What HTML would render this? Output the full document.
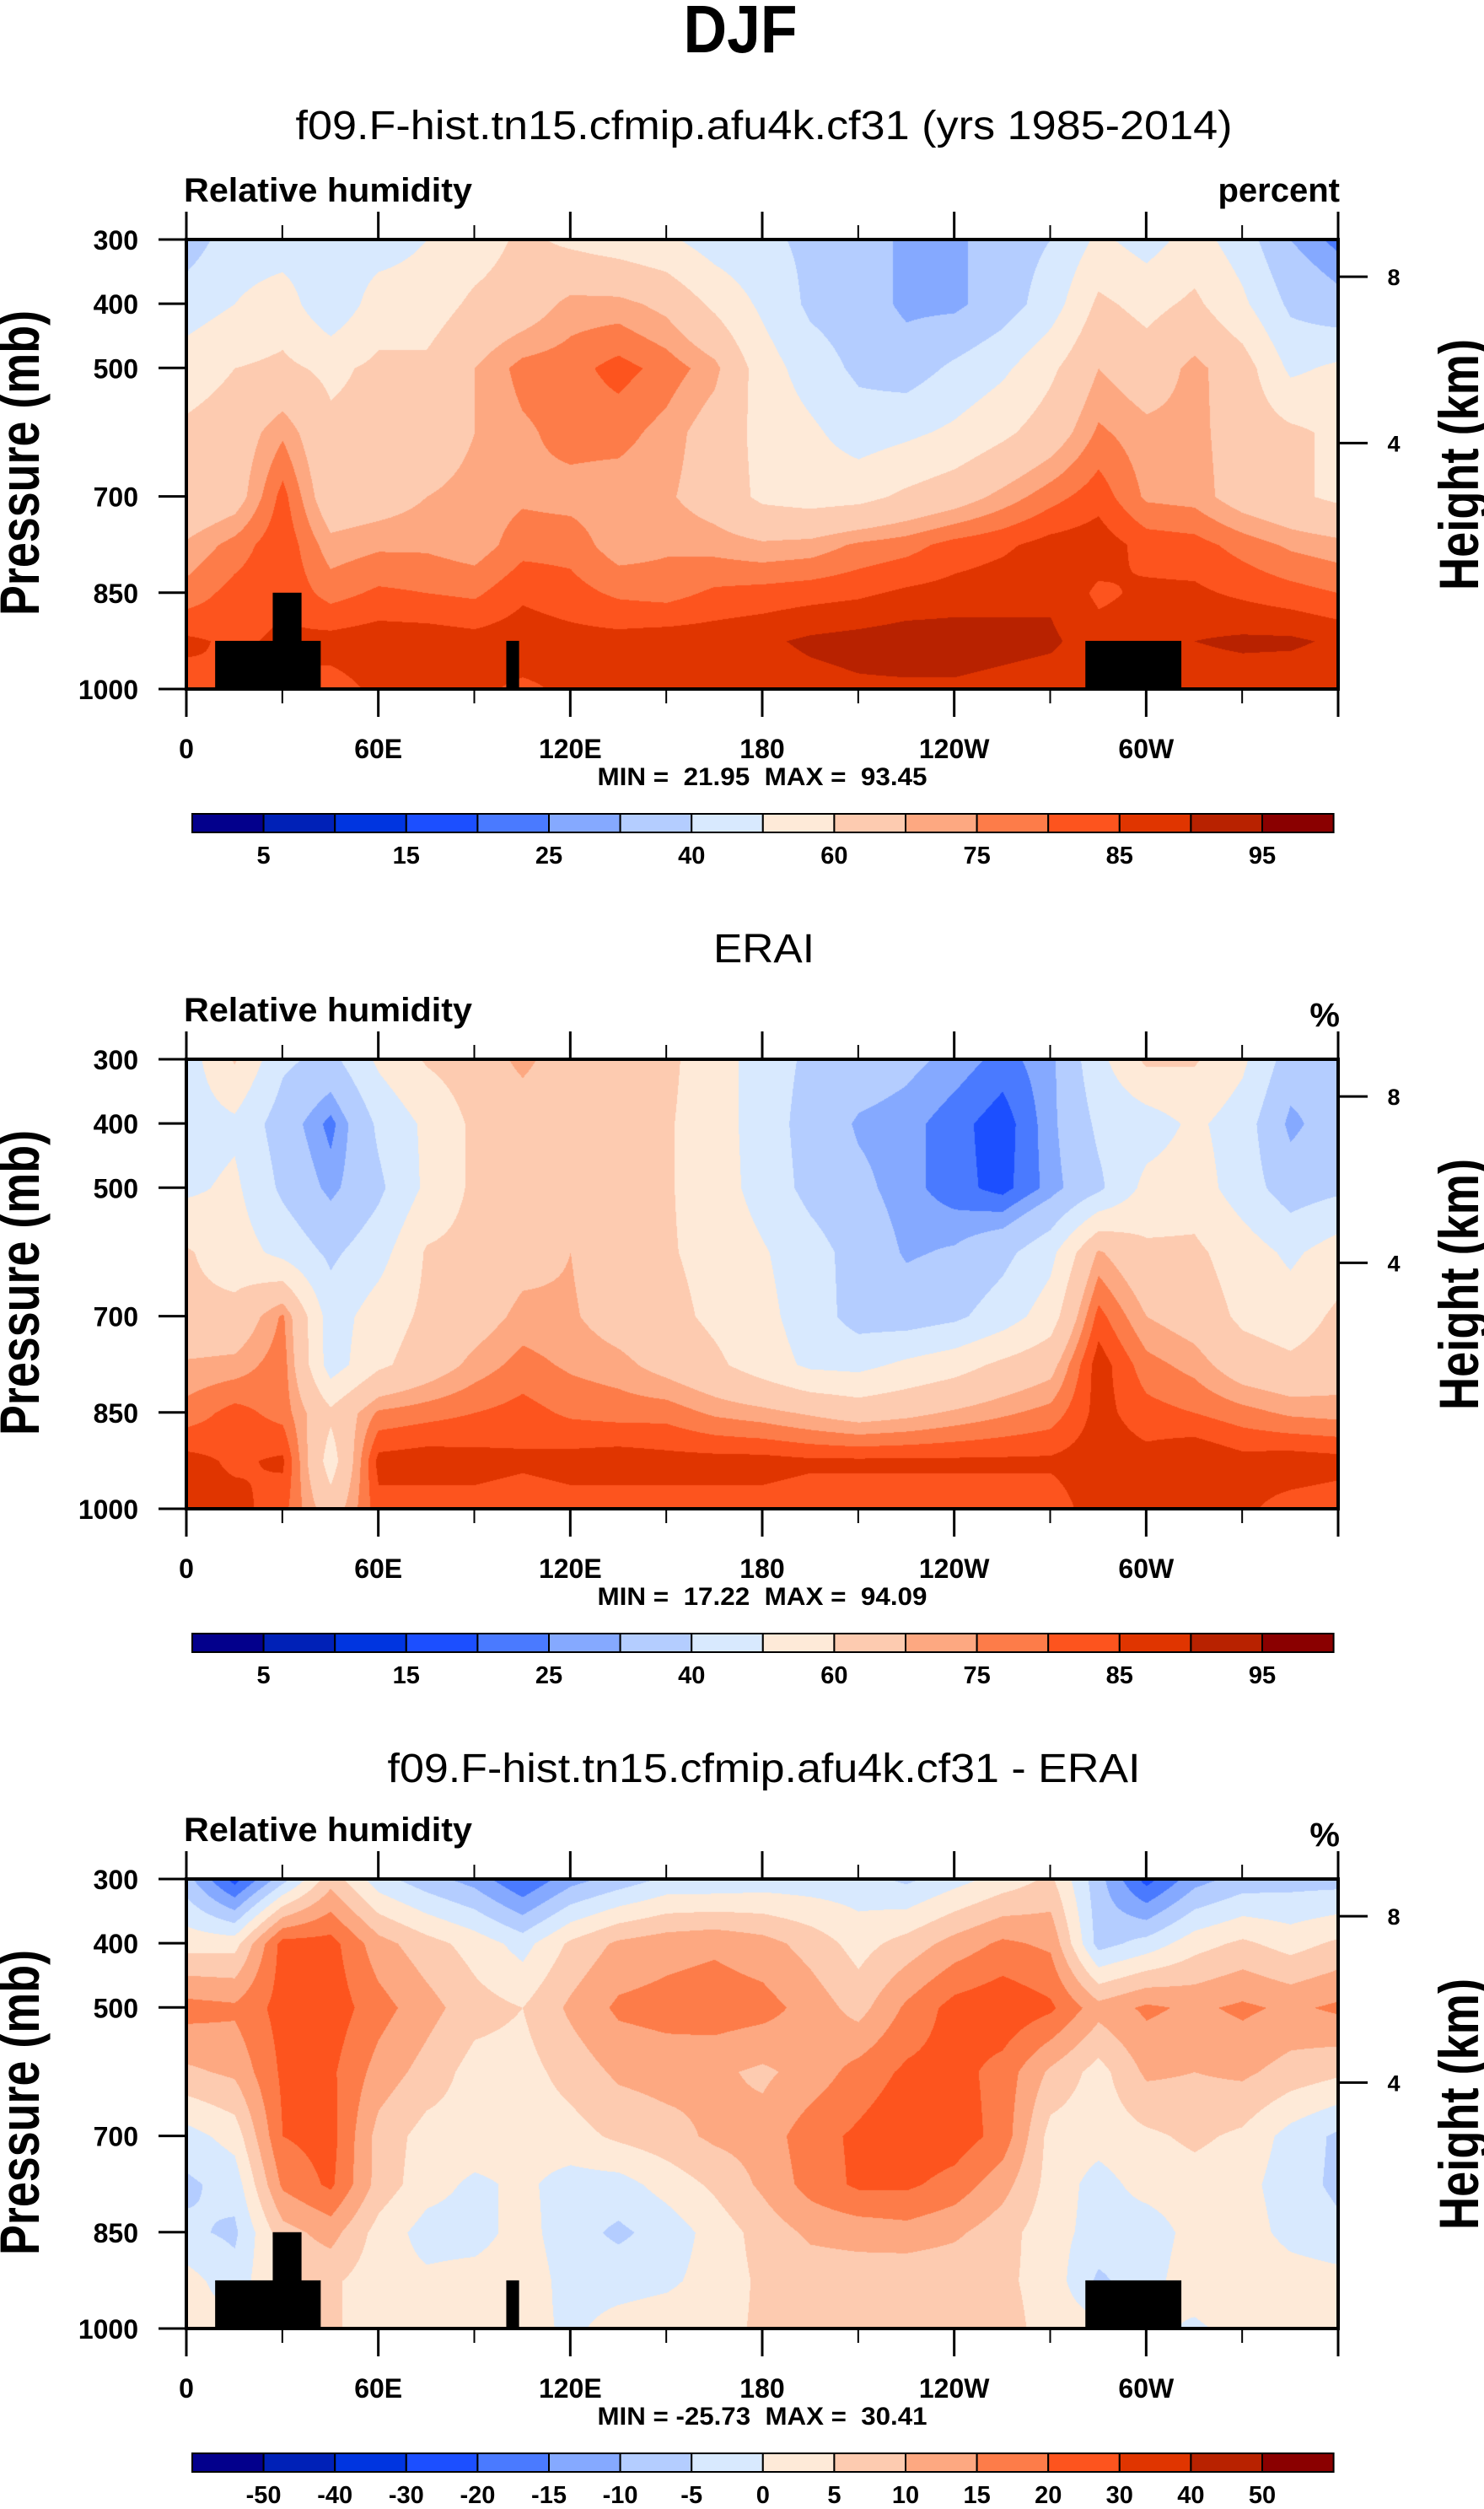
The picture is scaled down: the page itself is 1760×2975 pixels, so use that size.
<!DOCTYPE html>
<html><head><meta charset="utf-8">
<style>
html,body{margin:0;padding:0;background:#fff;}
#wrap{position:relative;width:1760px;height:2975px;overflow:hidden;background:#fff;}
canvas{position:absolute;}
svg{position:absolute;left:0;top:0;}
text{font-family:"Liberation Sans",sans-serif;fill:#000;}
</style></head>
<body>
<div id="wrap">
<canvas id="c0" width="1366" height="533" style="left:221px;top:284px"></canvas>
<canvas id="c1" width="1366" height="533" style="left:221px;top:1256px"></canvas>
<canvas id="c2" width="1366" height="533" style="left:221px;top:2228px"></canvas>
<svg id="svg" width="1760" height="2975" xmlns="http://www.w3.org/2000/svg">
<text x="878" y="62" font-size="80" font-weight="bold" text-anchor="middle" textLength="135" lengthAdjust="spacingAndGlyphs">DJF</text>
</svg>
</div>
<script>
// ---- data ----
const lonGrid = [0,15,30,45,60,75,90,105,120,135,150,165,180,195,210,225,240,255,270,285,300,315,330,345,360];
const presGrid = [300,400,500,600,700,775,850,925,1000];
const levRH = [5,10,15,20,25,30,40,50,60,70,75,80,85,90,95];
const levDiff = [-50,-40,-30,-20,-15,-10,-5,0,5,10,15,20,30,40,50];
const rhLabels = ["5","","15","","25","","40","","60","","75","","85","","95"];
const diffLabels = ["-50","-40","-30","-20","-15","-10","-5","0","5","10","15","20","30","40","50"];
const model = [
[35,45,45,45,45,50,55,62,58,55,52,45,42,38,35,28,28,35,40,52,46,54,45,30,23],
[45,50,55,42,55,55,62,65,72,72,68,58,48,38,35,28,28,35,45,62,57,62,52,38,33],
[55,60,62,58,62,62,70,77,78,82,78,72,55,45,38,35,42,48,58,70,65,72,65,48,52],
[62,65,74,62,63,65,70,74,77,77,73,66,57,52,45,48,52,58,65,76,72,72,66,62,58],
[62,66,82,64,66,70,72,74,73,72,71,66,58,56,57,62,66,72,78,83,74,73,66,62,58],
[71,77,84,72,74,74,72,78,78,72,74,73,71,72,76,78,82,84,87,88,83,82,78,74,72],
[77,82,84,78,81,80,79,84,82,79,78,81,82,83,84,86,87,88,89,84,86,86,84,82,80],
[86,84,86,87,88,88,87,88,87,87,88,88,89,91,92,93,93,92,91,87,87,90,91,91,89],
[83,86,84,83,86,87,86,84,86,87,87,87,87,88,89,89,89,88,87,87,86,87,87,86,86]];
const erai = [
[45,61,42,37,52,61,65,72,65,62,62,55,45,38,35,32,28,23,28,47,62,61,52,35,33],
[45,48,35,23,42,52,62,65,63,62,61,55,45,36,29,27,22,17,28,42,45,52,45,28,35],
[48,52,38,28,38,52,62,65,65,63,61,55,46,37,32,27,22,18,27,38,53,55,45,35,38],
[61,55,47,38,46,61,63,67,70,64,61,57,51,44,36,29,31,37,47,71,62,62,55,48,55],
[62,63,76,45,55,62,66,72,71,66,63,58,53,45,36,35,38,45,55,82,70,66,58,55,62],
[71,72,78,45,58,65,72,77,74,72,67,62,55,48,47,52,56,62,67,88,77,73,65,62,65],
[77,82,78,62,76,78,80,82,79,78,78,74,72,69,66,68,71,74,77,87,82,80,77,74,73],
[87,84,86,55,87,88,87,86,87,88,87,87,87,86,86,86,86,86,86,88,87,90,87,88,87],
[86,87,82,65,83,82,83,82,83,82,83,83,83,82,82,82,82,82,82,88,88,86,86,83,82]];
const diff = [
[-8,-22,-7,8,-3,-8,-12,-20,-12,-8,-4,-4,-3,-3,-3,-6,-2,2,6,-8,-22,-12,-8,-7,-7],
[3,3,22,22,12,7,3,-2,6,11,13,14,12,8,3,7,12,16,14,-7,-3,3,6,3,6],
[17,16,22,23,17,12,7,5,11,16,17,18,17,13,8,16,22,24,21,12,16,14,16,14,16],
[9,11,21,21,13,8,3,3,7,11,12,11,9,12,17,21,22,18,9,3,11,10,11,8,6],
[-2,2,20,22,8,3,3,2,3,6,8,11,12,18,21,24,23,18,3,2,4,6,4,-2,-6],
[-6,-3,16,21,8,2,-1,1,-2,-2,2,6,11,17,21,21,18,12,3,-2,2,3,2,-3,-6],
[-4,-6,8,12,3,-2,-2,2,-3,-6,-3,2,7,11,12,13,11,7,2,-2,-3,2,3,-2,-4],
[2,-3,6,6,2,1,2,3,-2,-2,-1,2,6,7,7,6,6,6,3,-6,-2,3,5,3,2],
[2,2,3,6,2,2,2,2,-1,2,3,3,6,6,6,6,6,7,3,2,2,-1,2,2,2]];
const topoLonStart = [9,27,100,281];
const topoLonEnd = [42,36,104,311];
const topoTopP = [925,850,925,925];
const xTickLons = [0,60,120,180,240,300];
const xTickLabels = ["0","60E","120E","180","120W","60W"];
const xMinorLons = [30,90,150,210,270,330];
const yTickP = [300,400,500,700,850,1000];
const yTickLabels = ["300","400","500","700","850","1000"];
const hTickP = [358,617];
const hTickLabels = ["8","4"];
const palette = ["#03008c","#0021b7","#0035e0","#1c4fff","#4a7aff","#85a9ff","#b4cdff","#d8e9fe","#feead8","#fdcbb0","#fda881","#fd7c49","#fd541e","#e03500","#b82200","#8a0000"];

const panels = [
 {data:model, lev:levRH, labels:rhLabels, title:"f09.F-hist.tn15.cfmip.afu4k.cf31 (yrs 1985-2014)", tlen:1111, unit:"percent", stats:"MIN =  21.95  MAX =  93.45", topo:true},
 {data:erai, lev:levRH, labels:rhLabels, title:"ERAI", tlen:120, unit:"%", stats:"MIN =  17.22  MAX =  94.09", topo:false},
 {data:diff, lev:levDiff, labels:diffLabels, title:"f09.F-hist.tn15.cfmip.afu4k.cf31 - ERAI", tlen:893, unit:"%", stats:"MIN = -25.73  MAX =  30.41", topo:true}
];

const L=221, PW=1366, PH=533, OFF=972;
function xs(lon){return L+lon*PW/360;}
function ys(p,top){return top+(p-300)*PH/700;}
function hex(c){return [parseInt(c.substr(1,2),16),parseInt(c.substr(3,2),16),parseInt(c.substr(5,2),16)];}
const pal = palette.map(hex);

function sample(data,lon,p){
  let c=Math.min(Math.floor(lon/15),23); let fx=(lon-lonGrid[c])/15;
  let k=0; while(k<presGrid.length-2 && p>presGrid[k+1]) k++;
  let fy=(p-presGrid[k])/(presGrid[k+1]-presGrid[k]);
  fy=Math.max(0,Math.min(1,fy));
  const a=data[k][c],b=data[k][c+1],d=data[k+1][c],e=data[k+1][c+1];
  return (a*(1-fx)+b*fx)*(1-fy)+(d*(1-fx)+e*fx)*fy;
}
panels.forEach((pn,i)=>{
  const cv=document.getElementById('c'+i); const ctx=cv.getContext('2d');
  const img=ctx.createImageData(PW,PH);
  for(let j=0;j<PH;j++){const p=300+j*700/PH;
    for(let x=0;x<PW;x++){const lon=x*360/PW;
      const v=sample(pn.data,lon,p); let idx=0; while(idx<pn.lev.length && v>=pn.lev[idx]) idx++;
      const col=pal[idx]; const o=(j*PW+x)*4; img.data[o]=col[0];img.data[o+1]=col[1];img.data[o+2]=col[2];img.data[o+3]=255;}}
  ctx.putImageData(img,0,0);
});

const svg=document.getElementById('svg'); const NS="http://www.w3.org/2000/svg";
function mk(tag,attrs,txt){const e=document.createElementNS(NS,tag);for(const k in attrs)e.setAttribute(k,attrs[k]);if(txt!==undefined)e.textContent=txt;svg.appendChild(e);return e;}

panels.forEach((pn,i)=>{
  const o=i*OFF, top=284+o, bot=top+PH;
  let e;
  e=mk('text',{x:906,y:165+o+(i?4:0),'font-size':48,'text-anchor':'middle',textLength:pn.tlen,lengthAdjust:'spacingAndGlyphs'},pn.title);
  
  
  e=mk('text',{x:218,y:239+o,'font-size':40,'font-weight':'bold',textLength:342,lengthAdjust:'spacingAndGlyphs'},"Relative humidity");
  
  
  e=mk('text',{x:1589,y:(pn.unit==='%'?245:239)+o,'font-size':40,'font-weight':'bold','text-anchor':'end'},pn.unit);
  
  
  if(pn.topo){
    topoLonStart.forEach((ls,t)=>{
      e=mk('rect',{x:xs(ls),y:ys(topoTopP[t],top),width:xs(topoLonEnd[t])-xs(ls),height:bot-ys(topoTopP[t],top),fill:'#000'});
      
      
    });
  }
  e=mk('rect',{x:L,y:top,width:PW,height:PH,fill:'none',stroke:'#000','stroke-width':4});
  
  
  xTickLons.concat([360]).forEach(lon=>{
    e=mk('line',{x1:xs(lon),x2:xs(lon),y1:bot,y2:bot+33,stroke:'#000','stroke-width':3});
    
    
    e=mk('line',{x1:xs(lon),x2:xs(lon),y1:top,y2:top-33,stroke:'#000','stroke-width':3});
    
    
  });
  xMinorLons.forEach(lon=>{
    e=mk('line',{x1:xs(lon),x2:xs(lon),y1:bot,y2:bot+17,stroke:'#000','stroke-width':2});
    
    
    e=mk('line',{x1:xs(lon),x2:xs(lon),y1:top,y2:top-17,stroke:'#000','stroke-width':2});
    
    
  });
  xTickLons.forEach((lon,t)=>{
    e=mk('text',{x:xs(lon),y:899+o,'font-size':32,'font-weight':'bold','text-anchor':'middle'},xTickLabels[t]);
    
    
  });
  yTickP.forEach((p,t)=>{
    const y=ys(p,top);
    e=mk('line',{x1:L-33,x2:L,y1:y,y2:y,stroke:'#000','stroke-width':3});
    
    
    e=mk('text',{x:164,y:y+12,'font-size':32,'font-weight':'bold','text-anchor':'end'},yTickLabels[t]);
    
    
  });
  hTickP.forEach((p,t)=>{
    const y=ys(p,top);
    e=mk('line',{x1:L+PW,x2:L+PW+35,y1:y,y2:y,stroke:'#000','stroke-width':3});
    
    
    e=mk('text',{x:1653,y:y+10,'font-size':27,'font-weight':'bold','text-anchor':'middle'},hTickLabels[t]);
    
    
  });
  e=mk('text',{x:0,y:0,'font-size':66,'font-weight':'bold','text-anchor':'middle',textLength:362,lengthAdjust:'spacingAndGlyphs',transform:`translate(46,${549+o}) rotate(-90)`},"Pressure (mb)");
  
  
  e=mk('text',{x:0,y:0,'font-size':66,'font-weight':'bold','text-anchor':'middle',textLength:298,lengthAdjust:'spacingAndGlyphs',transform:`translate(1753,${551+o}) rotate(-90)`},"Height (km)");
  
  
  e=mk('text',{x:904,y:931+o,'font-size':30,'font-weight':'bold','text-anchor':'middle',textLength:391,lengthAdjust:'spacingAndGlyphs',style:'white-space:pre'},pn.stats);
  
  
  // colorbar
  const cbL=228, bw=84.6, cbT=965+o, cbH=22;
  palette.forEach((c,k)=>{
    e=mk('rect',{x:cbL+k*bw,y:cbT,width:bw,height:cbH,fill:c,stroke:'#000','stroke-width':2});
    
    
  });
  pn.labels.forEach((lb,k)=>{
    if(!lb) return;
    e=mk('text',{x:cbL+(k+1)*bw,y:1024+o,'font-size':29,'font-weight':'bold','text-anchor':'middle'},lb);
    
    
  });
});
</script>
</body></html>
